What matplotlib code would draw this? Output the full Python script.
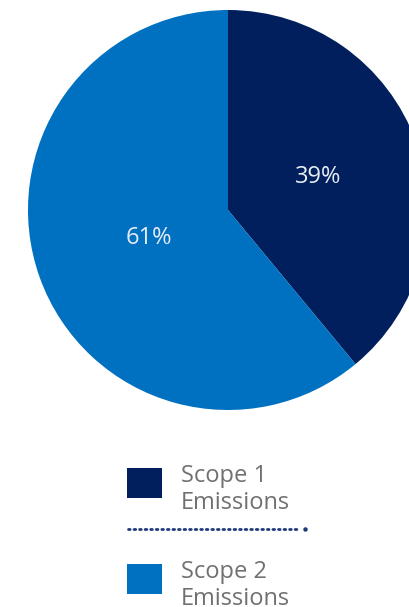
import matplotlib
matplotlib.use("Agg")
import matplotlib.pyplot as plt
from matplotlib.patches import Rectangle
from matplotlib.lines import Line2D
import numpy as np

categories = ["Scope 1\nEmissions", "Scope 2\nEmissions"]
shares = [39, 61]
colors = ["#001f5c", "#0070c0"]

W, H = 410, 607
fig = plt.figure(figsize=(W / 100, H / 100), dpi=100)
plt.rcParams["font.family"] = ["Open Sans", "DejaVu Sans"]

# pie axes: centre at (228, 210) px from top, radius 200 px
cx, cy, r = 228, 210, 200
ax = fig.add_axes([(cx - r) / W, (H - cy - r) / H, 2 * r / W, 2 * r / H])
wedges, _ = ax.pie(shares, colors=colors, startangle=90, counterclock=False,
                   radius=1, wedgeprops=dict(linewidth=0))
ax.set_xlim(-1, 1)
ax.set_ylim(-1, 1)
ax.set_aspect("equal")
ax.axis("off")

# percentage labels at the wedge midpoints
label_dist = [0.48, 0.42]
for w, v, d in zip(wedges, shares, label_dist):
    mid = np.deg2rad((w.theta1 + w.theta2) / 2)
    ax.text(d * np.cos(mid), d * np.sin(mid), f"{v}%", ha="center", va="center",
            color="#e8edf5", fontsize=17)

# legend drawn in pixel coordinates
lg = fig.add_axes([0, 0, 1, 1], zorder=5)
lg.set_xlim(0, W)
lg.set_ylim(H, 0)
lg.axis("off")
lg.patch.set_alpha(0)

rows_y = [468, 564]
for y0, lab, col in zip(rows_y, categories, colors):
    lg.add_patch(Rectangle((127, y0), 35, 30, facecolor=col, edgecolor="none"))
    for i, line in enumerate(lab.split("\n")):
        lg.text(181, y0 + 14 + 27 * i, line, ha="left", va="baseline",
                color="#707070", fontsize=17)

lg.add_line(Line2D([128, 298], [529, 529], color="#1f3a7a", linewidth=2,
                   linestyle=(0, (0.6, 1.4)), dash_capstyle="round"))
lg.add_line(Line2D([305], [529], marker="o", markersize=2.2, color="#1f3a7a",
                   linestyle="none"))

fig.savefig("out.png", dpi=100)
